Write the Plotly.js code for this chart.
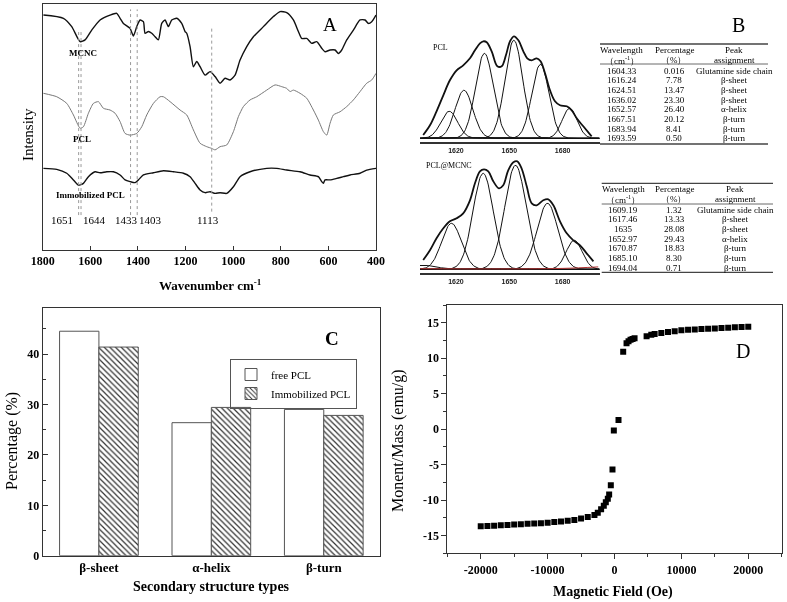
<!DOCTYPE html>
<html><head><meta charset="utf-8">
<script src="https://cdn.plot.ly/plotly-3.0.1.min.js"></script>
<style>html,body{margin:0;padding:0;background:#fff}#chart{width:787px;height:602px;will-change:transform}svg text{-webkit-font-smoothing:antialiased}</style>
</head><body><div id="chart"></div>
<script>
// ---------- Panel A : FTIR spectra ----------
const wnMCNC = [1797,1713,1678,1643,1622,1594,1559,1517,1489,1475,1461,1433,1419,1405,1391,1377,1370,1356,1342,1328,1314,1300,1286,1272,1258,1237,1216,1202,1195,1181,1167,1153,1139,1118,1097,1076,1055,1034,1013,992,971,943,915,873,831,803,775,747,726,712,691,670,649,628,614,593,572,558,544,523,495,467,446,432,418,400];
const intMCNC = [95.5,94.2,90.8,84.7,85.4,89.4,93.5,95.5,96.2,94.2,92.1,90.1,87.0,90.8,93.5,92.8,88.1,88.8,88.1,86.7,85.4,92.1,93.5,90.8,93.5,94.2,92.1,88.8,88.1,82.7,74.5,76.6,74.5,71.1,72.5,70.5,67.8,69.8,69.1,71.1,77.2,82.7,86.7,90.8,94.9,96.9,96.5,93.5,88.8,86.0,86.0,84.0,84.7,82.0,80.6,81.3,81.3,79.9,81.3,85.4,89.4,93.5,93.5,92.1,92.8,95.5];
const wnPCL = [1797,1741,1699,1671,1643,1629,1608,1587,1566,1545,1517,1496,1475,1454,1433,1405,1384,1363,1335,1307,1293,1265,1223,1195,1167,1139,1111,1090,1076,1055,1027,999,978,957,929,901,859,824,796,775,761,747,719,691,663,642,621,607,593,579,551,523,495,467,439,418,400];
const intPCL = [63.7,62.3,59.6,54.9,49.5,50.1,55.6,59.6,60.3,57.6,56.9,55.6,52.2,47.4,46.7,47.4,50.1,54.9,59.6,62.3,62.3,60.3,56.9,54.9,48.8,43.4,42.0,41.3,40.7,42.0,42.7,48.1,54.2,58.3,61.0,62.3,65.0,67.1,66.4,65.7,64.4,65.0,63.7,61.7,56.9,52.8,48.1,46.7,51.5,54.9,56.2,58.3,61.0,64.4,67.8,69.1,71.8];
const wnImm = [1797,1741,1699,1671,1650,1629,1608,1580,1559,1531,1503,1475,1454,1433,1412,1398,1377,1335,1293,1251,1209,1181,1160,1139,1118,1097,1076,1055,1027,999,971,929,859,817,775,719,677,642,628,621,614,593,565,537,509,467,439,400];
const intImm = [33.2,32.8,31.2,28.5,26.4,27.1,29.8,31.8,31.4,31.8,31.8,30.5,28.5,27.8,27.4,28.5,30.5,31.4,32.2,31.8,31.2,29.8,27.1,24.4,23.3,23.7,23.0,23.3,23.0,25.7,29.8,31.8,33.2,33.2,32.5,31.8,30.5,29.8,27.8,27.1,28.5,28.5,29.1,29.8,30.5,31.2,32.5,33.2];
const vlineWn = [1649,1639,1431,1403,1090];
const vlineTop = [88.8,88.8,97.8,97.8,90.1];
const vlineBot = [14.2,14.2,14.2,14.2,15.6];
const peakLabels = ['1651','1644','1433','1403','1113'];
const peakLabelWn = [1720,1584,1450,1346,1104];
const curveLabels = ['MCNC','PCL','Immobilized PCL'];
const curveLabelWn = [1629,1636,1601];
const curveLabelInt = [80,45,22.4];

// ---------- Panel B : deconvolution ----------
const pclCenters = [1616.24,1624.51,1636.02,1652.57,1667.51,1683.94];
const pclHeights = [27,48,85,98,74,30];
const pclSigmas  = [4.7,5.0,5.0,5.0,4.8,4.2];
const pclEnvWn = [1601.6,1605.4,1609.1,1612.9,1616.6,1620.4,1624.1,1627.9,1630.7,1633.5,1635.4,1637.3,1640.1,1643.3,1645.7,1648.1,1650.4,1652.6,1655.1,1657.9,1660.1,1662.6,1665.4,1667.6,1670.1,1672.9,1675.7,1678.5,1682.3,1685.1,1687.9,1691.6,1696.3];
const pclEnvH  = [3.3,13,27,43,58,68,73,80,88,95,97,96,87,72,72,83,97,102,98,87,80,78,80,77,65,48,37,33,32,28,20,12,2];
const mcCenters = [1602,1617.5,1635.3,1653.5,1671.5,1686.5];
const mcHeights = [4,46,96,104,66,29];
const mcSigmas  = [7,5.5,5.7,6.0,5.8,4.5];
const mcEnvWn = [1601.6,1605.4,1609.1,1612.9,1616.6,1620.4,1624.1,1627.9,1630.7,1633.5,1635.8,1638.2,1641.0,1644.2,1646.6,1649.4,1652.3,1654.5,1656.9,1659.8,1662.6,1665.4,1669.1,1671.9,1674.8,1678.5,1682.3,1686.0,1689.8,1693.5,1697.3];
const mcEnvH  = [9.3,19,31,41,48,51,56,69,86,98,100,98,88,81,84,99,107,108,101,83,66,64,69,70,64,48,36,29,24,16,8];
const mcBaseWn = [1600,1640,1680,1700];
const mcBaseH  = [0.6,0.4,0.9,2.4];
const bTicks = [1620,1650,1680];
const tab1Wave = ['1604.33','1616.24','1624.51','1636.02','1652.57','1667.51','1683.94','1693.59'];
const tab1Pct  = ['0.016','7.78','13.47','23.30','26.40','20.12','8.41','0.50'];
const tab1Asg  = ['Glutamine side chain','β-sheet','β-sheet','β-sheet','α-helix','β-turn','β-turn','β-turn'];
const tab2Wave = ['1609.19','1617.46','1635','1652.97','1670.87','1685.10','1694.04'];
const tab2Pct  = ['1.32','13.33','28.08','29.43','18.83','8.30','0.71'];
const tab2Asg  = ['Glutamine side chain','β-sheet','β-sheet','α-helix','β-turn','β-turn','β-turn'];
const tabHead1 = ['Wavelength','Percentage','Peak'];
const tabHead2 = ['（cm<sup>-1</sup>）','（%）','assignment'];

// ---------- Panel C : secondary structure ----------
const structTypes = ['β-sheet','α-helix','β-turn'];
const freePCL = [44.55,26.40,29.03];
const immPCL  = [41.41,29.43,27.84];

// ---------- Panel D : magnetisation ----------
const fieldOe = [-20000,-19000,-18000,-17000,-16000,-15000,-14000,-13000,-12000,-11000,-10000,-9000,-8000,-7000,-6000,-5000,-4000,-3000,-2500,-2000,-1600,-1300,-1000,-800,-550,-300,-100,600,1300,1800,2100,2400,2700,3000,4800,5500,6000,7000,8000,9000,10000,11000,12000,13000,14000,15000,16000,17000,18000,19000,20000];
const moment  = [-13.7,-13.65,-13.6,-13.55,-13.5,-13.45,-13.4,-13.35,-13.3,-13.25,-13.2,-13.1,-13.0,-12.9,-12.8,-12.6,-12.4,-12.1,-11.8,-11.3,-10.8,-10.3,-9.8,-9.2,-7.9,-5.7,-0.2,1.3,10.9,12.1,12.4,12.6,12.7,12.8,13.1,13.3,13.4,13.55,13.7,13.8,13.95,14.0,14.05,14.1,14.15,14.2,14.25,14.3,14.35,14.4,14.45];

// ---------- helpers ----------
const W = 787, H = 602;
const fx = p => p / W, fy = p => 1 - p / H;
const SERIF = 'Liberation Serif';
const INK = '#000';
const traces = [];
const annotations = [];
const shapes = [];
function ann(px, py, text, size, opts) {
  annotations.push(Object.assign({xref:'paper', yref:'paper', x:fx(px), y:fy(py), text:text,
    showarrow:false, xanchor:'center', yanchor:'middle', font:{family:SERIF, size:size, color:INK}}, opts || {}));
}
function gaussCurve(c, h, s) {
  const xs = [], ys = [];
  for (let x = 1599.8; x <= 1701; x += 0.4) { xs.push(x); ys.push(h * Math.exp(-((x - c) ** 2) / (2 * s * s))); }
  return {xs, ys};
}

// A traces
traces.push({x:wnMCNC, y:intMCNC, xaxis:'x', yaxis:'y', mode:'lines', line:{color:'#111', width:1.4, shape:'spline', smoothing:0.6}, showlegend:false, hoverinfo:'skip'});
traces.push({x:wnPCL, y:intPCL, xaxis:'x', yaxis:'y', mode:'lines', line:{color:'#777', width:1, shape:'spline', smoothing:0.6}, showlegend:false, hoverinfo:'skip'});
traces.push({x:wnImm, y:intImm, xaxis:'x', yaxis:'y', mode:'lines', line:{color:'#111', width:1.4, shape:'spline', smoothing:0.6}, showlegend:false, hoverinfo:'skip'});
vlineWn.forEach((w, i) => shapes.push({type:'line', xref:'x', yref:'y', x0:w, x1:w, y0:vlineBot[i], y1:vlineTop[i], line:{color:'#999', width:1, dash:'dot'}}));
peakLabels.forEach((t, i) => annotations.push({xref:'x', yref:'y', x:peakLabelWn[i], y:12.2, text:t, showarrow:false, font:{family:SERIF, size:11, color:INK}}));
curveLabels.forEach((t, i) => annotations.push({xref:'x', yref:'y', x:curveLabelWn[i], y:curveLabelInt[i], text:'<b>' + t + '</b>', showarrow:false, font:{family:SERIF, size:9, color:INK}}));
ann(330, 25, 'A', 19);
ann(28, 135, 'Intensity', 15, {textangle:-90});
ann(210, 285, '<b>Wavenumber cm<sup>-1</sup></b>', 13);

// B traces
pclCenters.forEach((c, i) => { const g = gaussCurve(c, pclHeights[i], pclSigmas[i]);
  traces.push({x:g.xs, y:g.ys, xaxis:'x2', yaxis:'y2', mode:'lines', line:{color:'#111', width:1}, showlegend:false, hoverinfo:'skip'}); });
traces.push({x:pclEnvWn, y:pclEnvH, xaxis:'x2', yaxis:'y2', mode:'lines', line:{color:'#111', width:1.8, shape:'spline'}, showlegend:false, hoverinfo:'skip'});
mcCenters.forEach((c, i) => { const g = gaussCurve(c, mcHeights[i], mcSigmas[i]);
  traces.push({x:g.xs, y:g.ys, xaxis:'x3', yaxis:'y3', mode:'lines', line:{color:'#111', width:1}, showlegend:false, hoverinfo:'skip'}); });
traces.push({x:mcBaseWn, y:mcBaseH, xaxis:'x3', yaxis:'y3', mode:'lines', line:{color:'#b03030', width:1, shape:'spline'}, showlegend:false, hoverinfo:'skip'});
traces.push({x:mcEnvWn, y:mcEnvH, xaxis:'x3', yaxis:'y3', mode:'lines', line:{color:'#111', width:1.8, shape:'spline'}, showlegend:false, hoverinfo:'skip'});
ann(440, 48, 'PCL', 8);
ann(449, 166, 'PCL@MCNC', 8);
ann(738, 25, 'B', 20);

function table(cols, headY, rowY, rules, x0, x1, wave, pct, asg) {
  [0,1,2].forEach(j => { ann(cols[j], headY[0], tabHead1[j], 9); ann(cols[j], headY[1], tabHead2[j], 9); });
  rowY.forEach((y, i) => { ann(cols[0], y, wave[i], 9); ann(cols[1], y, pct[i], 9); ann(cols[2], y, asg[i], 9); });
  rules.forEach((r, k) => shapes.push({type:'line', xref:'paper', yref:'paper', x0:fx(x0), x1:fx(x1), y0:fy(r), y1:fy(r), line:{color:'#444', width: k === 1 ? 0.8 : 1.3}}));
}
table([621.7,674,734], [50,60], [70.7,80.3,90,99.7,109.3,119,128.7,138.3], [44,64,144], 600, 768, tab1Wave, tab1Pct, tab1Asg);
table([623.3,674,735], [189,199], [210,219.5,229,238.7,248.3,258,267.7], [183.3,204,272.3], 601.7, 773, tab2Wave, tab2Pct, tab2Asg);

// C traces
traces.push({type:'bar', x:structTypes, y:freePCL, name:'free PCL', xaxis:'x4', yaxis:'y4',
  marker:{color:'#fff', line:{color:'#555', width:1}}, hoverinfo:'skip'});
traces.push({type:'bar', x:structTypes, y:immPCL, name:'Immobilized PCL', xaxis:'x4', yaxis:'y4',
  marker:{color:'#fff', line:{color:'#555', width:1}, pattern:{shape:'\\', fgcolor:'#333', bgcolor:'#fff', size:4, solidity:0.3}}, hoverinfo:'skip'});
ann(332, 338, '<b>C</b>', 19);
ann(12, 441, 'Percentage (%)', 16, {textangle:-90});
ann(211, 586, '<b>Secondary structure types</b>', 14);
ann(398, 440, 'Monent/Mass (emu/g)', 16, {textangle:-90});

// D traces
traces.push({x:fieldOe, y:moment, xaxis:'x5', yaxis:'y5', mode:'markers', marker:{symbol:'square', size:6, color:'#000'}, showlegend:false, hoverinfo:'skip'});
ann(613, 592, '<b>Magnetic Field (Oe)</b>', 14);
ann(743, 351, 'D', 20);

const boldTick = {family:SERIF, size:12, color:INK, weight:'bold'};
const base = {showgrid:false, zeroline:false, showline:true, linecolor:'#333', linewidth:1, mirror:true};
const layout = {
  width:W, height:H, margin:{l:0, r:0, t:0, b:0}, paper_bgcolor:'#fff', plot_bgcolor:'rgba(0,0,0,0)',
  font:{family:SERIF, color:INK},
  showlegend:true,
  legend:{x:fx(230), y:fy(359), xanchor:'left', yanchor:'top', bordercolor:'#555', borderwidth:1, bgcolor:'rgba(255,255,255,0)',
    font:{family:SERIF, size:11, color:INK}, tracegroupgap:0, itemwidth:30},
  bargap:0.3, bargroupgap:0,
  xaxis: Object.assign({}, base, {domain:[fx(42.7), fx(376)], range:[1800,400], anchor:'y', tickvals:[1800,1600,1400,1200,1000,800,600,400],
    ticks:'inside', ticklen:4, tickcolor:'#333', tickfont:boldTick}),
  yaxis: Object.assign({}, base, {domain:[fy(250), fy(4)], range:[0,100], anchor:'x', ticks:'', showticklabels:false}),
  xaxis2: {domain:[fx(420), fx(600)], range:[1599.8,1701], anchor:'y2', showgrid:false, zeroline:false, showline:true, linecolor:'#333', linewidth:2,
    ticks:'', tickvals:bTicks, tickfont:{family:'Liberation Sans', size:7, weight:'bold', color:'#222'}},
  yaxis2: {domain:[fy(142.3), fy(30)], range:[-4,108.3], anchor:'x2', showgrid:false, zeroline:false, showline:false, ticks:'', showticklabels:false},
  xaxis3: {domain:[fx(420), fx(600)], range:[1599.8,1701], anchor:'y3', showgrid:false, zeroline:false, showline:true, linecolor:'#333', linewidth:2,
    ticks:'', tickvals:bTicks, tickfont:{family:'Liberation Sans', size:7, weight:'bold', color:'#222'}},
  yaxis3: {domain:[fy(273.3), fy(155)], range:[-4,114.3], anchor:'x3', showgrid:false, zeroline:false, showline:false, ticks:'', showticklabels:false},
  xaxis4: Object.assign({}, base, {domain:[fx(42.7), fx(380)], type:'category', range:[-0.5,2.5], anchor:'y4', ticks:'',
    tickfont:{family:SERIF, size:13, weight:'bold', color:INK}}),
  yaxis4: Object.assign({}, base, {domain:[fy(555.7), fy(308.3)], range:[0,49.1], anchor:'x4', tickvals:[0,10,20,30,40],
    ticks:'inside', ticklen:5, tickcolor:'#333', tickfont:boldTick, minor:{tickvals:[5,15,25,35,45], ticks:'inside', ticklen:3, tickcolor:'#333'}}),
  xaxis5: Object.assign({}, base, {domain:[fx(447.3), fx(781.7)], range:[-25000,25000], anchor:'y5', tickvals:[-20000,-10000,0,10000,20000],
    ticktext:['-20000','-10000','0','10000','20000'], ticks:'outside', ticklen:5, tickcolor:'#333', tickfont:boldTick,
    minor:{tickvals:[-25000,-15000,-5000,5000,15000,25000], ticks:'outside', ticklen:3, tickcolor:'#333'}}),
  yaxis5: Object.assign({}, base, {domain:[fy(553.3), fy(305)], range:[-17.5,17.5], anchor:'x5', tickvals:[-15,-10,-5,0,5,10,15],
    ticktext:['-15','-10','-5','0','5','10','15'], ticks:'outside', ticklen:5, tickcolor:'#333', tickfont:boldTick,
    minor:{tickvals:[-17.5,-12.5,-7.5,-2.5,2.5,7.5,12.5,17.5], ticks:'outside', ticklen:3, tickcolor:'#333'}}),
  annotations: annotations,
  shapes: shapes
};
Plotly.newPlot('chart', traces, layout, {displayModeBar:false, staticPlot:true});
</script>
</body></html>
